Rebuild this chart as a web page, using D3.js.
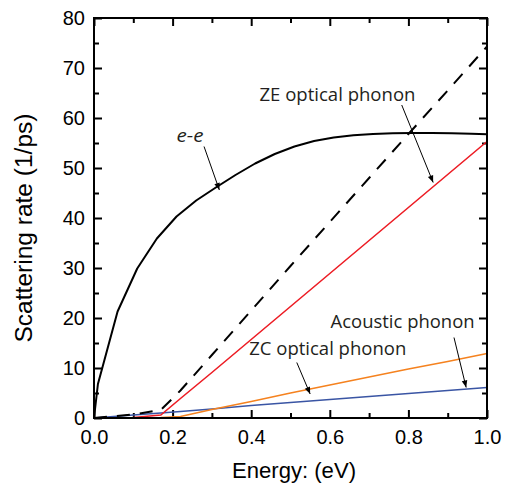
<!DOCTYPE html>
<html>
<head>
<meta charset="utf-8">
<title>Scattering rate vs energy</title>
<style>
  html, body { margin: 0; padding: 0; background: #fff; }
  svg { display: block; }
</style>
</head>
<body>
<svg id="viz"></svg>
<script src="https://cdn.jsdelivr.net/npm/d3@7"></script>
<script>
// e-e scattering (solid black)
var eeEnergy = [0, 0.01, 0.06, 0.11, 0.16, 0.21, 0.26, 0.31, 0.36, 0.41, 0.46, 0.51, 0.56, 0.61, 0.66, 0.71, 0.76, 0.81, 0.86, 0.91, 0.96, 1.0];
var eeRate   = [0, 6.8, 21.3, 29.9, 35.9, 40.3, 43.5, 46.1, 48.6, 50.9, 52.8, 54.3, 55.4, 56.1, 56.55, 56.8, 56.95, 57.0, 57.0, 56.95, 56.85, 56.75];

// phonon rates, all on the same energy grid
var phEnergy  = [0, 0.1, 0.17, 0.22, 0.3, 0.4, 0.5, 0.6, 0.7, 0.8, 0.9, 1.0];
var zeRate    = [0, 0.1, 0.6, 3.9, 9.1, 15.7, 22.3, 28.9, 35.5, 42.1, 48.7, 55.3];
var zcRate    = [0, 0.0, 0.1, 0.3, 1.7, 3.3, 5.0, 6.6, 8.2, 9.8, 11.3, 12.9];
var acRate    = [0, 0.6, 1.0, 1.3, 1.8, 2.5, 3.1, 3.7, 4.3, 4.9, 5.5, 6.1];
var totalRate = [0, 0.7, 1.6, 5.5, 12.6, 21.5, 30.4, 39.2, 48.0, 56.8, 65.5, 74.3];

var xMajor = [0, 0.2, 0.4, 0.6, 0.8, 1.0];
var xMinor = [0.1, 0.3, 0.5, 0.7, 0.9];
var yMajor = [0, 10, 20, 30, 40, 50, 60, 70, 80];
var yMinor = [5, 15, 25, 35, 45, 55, 65, 75];

var width = 510, height = 487;
// plot box edges (note: "top" is taken by window.top)
var plotL = 94, plotR = 487, plotT = 18, plotB = 418;

var svg = d3.select("#viz").attr("width", width).attr("height", height);

var x = d3.scaleLinear().domain([0, 1]).range([plotL, plotR]);
var y = d3.scaleLinear().domain([0, 80]).range([plotB, plotT]);

var tickFont = "'Liberation Sans', Arial, sans-serif";
var noteFont = "'Open Sans', 'Noto Sans', sans-serif";

// arrow head
svg.append("defs").append("marker")
    .attr("id", "arrow")
    .attr("viewBox", "0 -5 10 10")
    .attr("refX", 10)
    .attr("refY", 0)
    .attr("markerUnits", "userSpaceOnUse")
    .attr("markerWidth", 10)
    .attr("markerHeight", 7)
    .attr("orient", "auto")
  .append("path")
    .attr("d", "M0,-4L10,0L0,4Z")
    .attr("fill", "#000");

// axes: ticks point inward on all four sides
function addAxis(axis, values, size, transform, fmt, pad) {
    var g = svg.append("g")
        .attr("transform", transform)
        .call(axis.tickValues(values).tickSize(-size).tickPadding(pad || 0)
            .tickFormat(fmt ? fmt : function() { return ""; }));
    g.select(".domain").remove();
    g.selectAll(".tick line").attr("stroke", "#000").attr("stroke-width", 2);
    g.selectAll("text").attr("font-family", tickFont).attr("font-size", 20).attr("fill", "#000");
    return g;
}

addAxis(d3.axisBottom(x), xMajor, 8, "translate(0," + plotB + ")", d3.format(".1f"), 12);
addAxis(d3.axisBottom(x), xMinor, 5, "translate(0," + plotB + ")");
addAxis(d3.axisTop(x), xMajor, 8, "translate(0," + plotT + ")");
addAxis(d3.axisTop(x), xMinor, 5, "translate(0," + plotT + ")");
addAxis(d3.axisLeft(y), yMajor, 8, "translate(" + plotL + ",0)", d3.format("d"), 9);
addAxis(d3.axisLeft(y), yMinor, 5, "translate(" + plotL + ",0)");
addAxis(d3.axisRight(y), yMajor, 8, "translate(" + plotR + ",0)");
addAxis(d3.axisRight(y), yMinor, 5, "translate(" + plotR + ",0)");

// curves
function series(xs, ys) {
    return xs.map(function(d, i) { return [d, ys[i]]; });
}
var line = d3.line().x(function(d) { return x(d[0]); }).y(function(d) { return y(d[1]); });

var plot = svg.append("g");
plot.append("path").datum(series(phEnergy, acRate))
    .attr("d", line).attr("fill", "none").attr("stroke", "#3a55a4").attr("stroke-width", 1.6);
plot.append("path").datum(series(phEnergy, zcRate))
    .attr("d", line).attr("fill", "none").attr("stroke", "#f5821f").attr("stroke-width", 1.6);
plot.append("path").datum(series(phEnergy, zeRate))
    .attr("d", line).attr("fill", "none").attr("stroke", "#ed1c24").attr("stroke-width", 1.6);
plot.append("path").datum(series(phEnergy, totalRate))
    .attr("d", line).attr("fill", "none").attr("stroke", "#000").attr("stroke-width", 2)
    .attr("stroke-dasharray", "13,10");
plot.append("path").datum(series(eeEnergy, eeRate))
    .attr("d", line).attr("fill", "none").attr("stroke", "#000").attr("stroke-width", 2)
    .attr("stroke-linejoin", "round");

// frame
svg.append("rect")
    .attr("x", plotL).attr("y", plotT)
    .attr("width", plotR - plotL).attr("height", plotB - plotT)
    .attr("fill", "none").attr("stroke", "#000").attr("stroke-width", 2);

// annotations (positions in data units)
var notes = [
    {text: "e-e", x: 0.210, y: 55.3, len: 27, italic: true, from: [0.280, 54.3], to: [0.319, 45.6]},
    {text: "ZE optical phonon", x: 0.421, y: 63.4, len: 156, from: [0.783, 62.6], to: [0.863, 47.1]},
    {text: "Acoustic phonon", x: 0.602, y: 18.1, len: 144, from: [0.916, 16.1], to: [0.947, 6.1]},
    {text: "ZC optical phonon", x: 0.395, y: 12.6, len: 157, from: [0.516, 11.1], to: [0.550, 4.8]}
];

notes.forEach(function(n) {
    svg.append("text")
        .attr("x", x(n.x)).attr("y", y(n.y))
        .attr("font-family", noteFont)
        .attr("font-size", 19)
        .attr("font-style", n.italic ? "italic" : "normal")
        .attr("textLength", n.len)
        .attr("lengthAdjust", "spacingAndGlyphs")
        .attr("fill", "#231f20")
        .text(n.text);
    svg.append("line")
        .attr("x1", x(n.from[0])).attr("y1", y(n.from[1]))
        .attr("x2", x(n.to[0])).attr("y2", y(n.to[1]))
        .attr("stroke", "#000").attr("stroke-width", 1)
        .attr("marker-end", "url(#arrow)");
});

// axis titles
svg.append("text")
    .attr("x", 294).attr("y", 478)
    .attr("text-anchor", "middle")
    .attr("font-family", tickFont).attr("font-size", 22)
    .attr("textLength", 124).attr("lengthAdjust", "spacingAndGlyphs")
    .text("Energy: (eV)");

svg.append("text")
    .attr("transform", "translate(32,228) rotate(-90)")
    .attr("text-anchor", "middle")
    .attr("font-family", tickFont).attr("font-size", 23)
    .attr("textLength", 229).attr("lengthAdjust", "spacingAndGlyphs")
    .text("Scattering rate (1/ps)");
</script>
</body>
</html>
